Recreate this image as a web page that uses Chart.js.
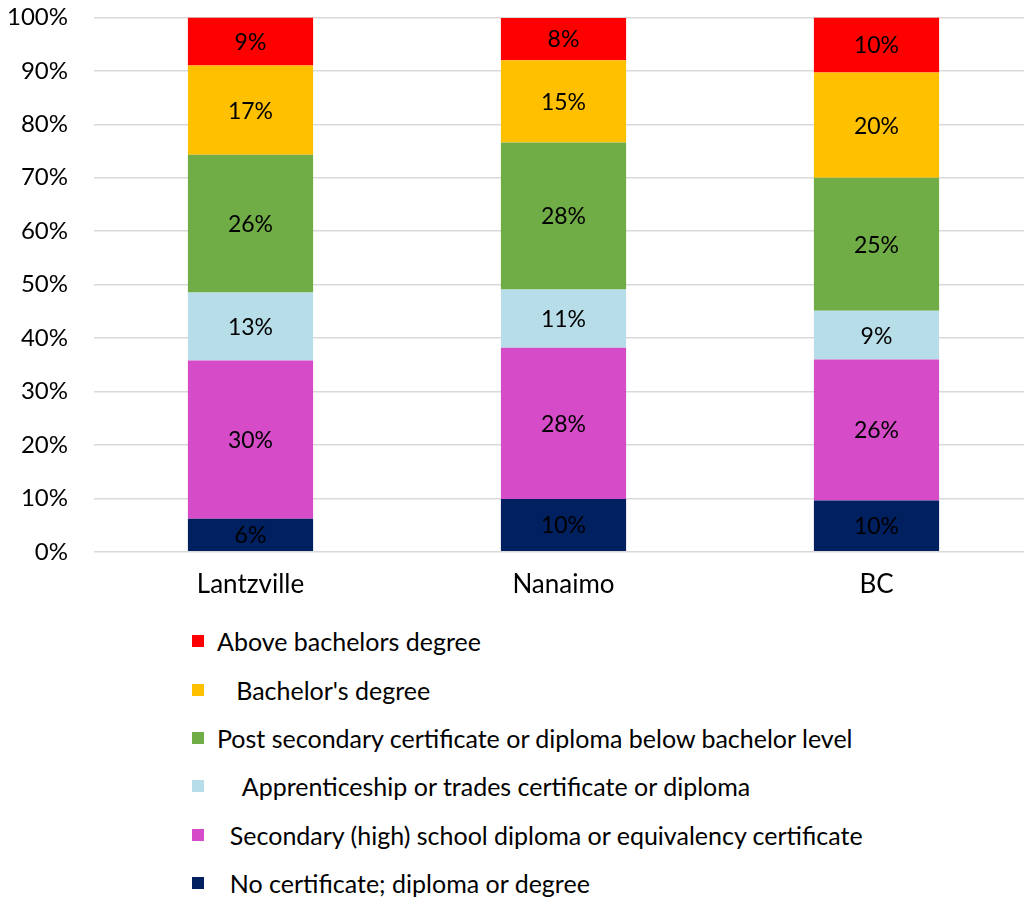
<!DOCTYPE html>
<html>
<head>
<meta charset="utf-8">
<script src="https://cdn.jsdelivr.net/npm/chart.js@4.4.1/dist/chart.umd.min.js"></script>
<style>
    html, body { margin: 0; padding: 0; background: #fff; width: 1024px; height: 901px; overflow: hidden; }
    #wrap { position: absolute; left: 0; top: -23px; width: 1033px; height: 632px; }
    #legend { position: absolute; left: 192px; top: 617px; font-family: "Lato", "Open Sans", sans-serif; font-size: 25px; color: #000; }
    .item { height: 48.4px; display: flex; align-items: center; white-space: pre; }
    .box { width: 12px; height: 12px; margin-right: 13px; flex: none; }
</style>
</head>
<body>
<div id="wrap"><canvas id="chart" width="1033" height="632"></canvas></div>
<div id="legend"></div>
<script>
const categories = ["Lantzville", "Nanaimo", "BC"];
const seriesNames = [
    "  No certificate; diploma or degree",
    "  Secondary (high) school diploma or equivalency certificate",
    "    Apprenticeship or trades certificate or diploma",
    "Post secondary certificate or diploma below bachelor level",
    "   Bachelor's degree",
    "Above bachelors degree",
];
const noCertificate = [6.2, 9.9, 9.6];
const secondary = [29.6, 28.3, 26.4];
const apprenticeship = [12.7, 10.9, 9.1];
const postSecondary = [25.8, 27.5, 24.9];
const bachelors = [16.7, 15.4, 19.7];
const aboveBachelors = [9.0, 7.9, 10.3];
const yTicks = [0, 10, 20, 30, 40, 50, 60, 70, 80, 90, 100];
const colors = ["#002060", "#d54bc8", "#b7dde8", "#70ad47", "#ffc000", "#ff0000"];

const seriesValues = [noCertificate, secondary, apprenticeship, postSecondary, bachelors, aboveBachelors];
const font = "Lato, 'Open Sans', sans-serif";

const barLabels = {
    id: "barLabels",
    afterDatasetsDraw(chart) {
        const ctx = chart.ctx;
        ctx.save();
        ctx.font = "23px " + font;
        ctx.fillStyle = "#000";
        ctx.textAlign = "center";
        ctx.textBaseline = "middle";
        chart.data.datasets.forEach((ds, i) => {
            chart.getDatasetMeta(i).data.forEach((bar, j) => {
                const mid = (bar.y + bar.base) / 2;
                ctx.fillText(Math.round(ds.data[j]) + "%", bar.x, mid + 1);
            });
        });
        ctx.restore();
    },
};

new Chart(document.getElementById("chart").getContext("2d"), {
    type: "bar",
    data: {
        labels: categories,
        datasets: seriesValues.map((values, i) => ({
            label: seriesNames[i].trim(),
            data: values,
            backgroundColor: colors[i],
            categoryPercentage: 1,
            barPercentage: 0.4,
        })),
    },
    options: {
        responsive: false,
        animation: false,
        layout: { padding: { top: 4, left: 0, right: 0, bottom: 0 } },
        plugins: {
            legend: { display: false },
            tooltip: { enabled: false },
        },
        scales: {
            x: {
                stacked: true,
                grid: { display: false },
                border: { display: false },
                ticks: { color: "#000", font: { family: font, size: 26 }, padding: 9 },
            },
            y: {
                stacked: true,
                min: 0,
                max: 100,
                afterBuildTicks(scale) {
                    scale.ticks = yTicks.map((v) => ({ value: v }));
                },
                afterFit(scale) {
                    scale.width = 94;
                },
                grid: { color: "#d9d9d9", lineWidth: 1.5, drawTicks: false },
                border: { display: false },
                ticks: {
                    color: "#000",
                    font: { family: font, size: 24 },
                    padding: 26,
                    callback: (v) => v + "%",
                },
            },
        },
    },
    plugins: [barLabels],
});

const legend = document.getElementById("legend");
for (let i = seriesNames.length - 1; i >= 0; i--) {
    const item = document.createElement("div");
    item.className = "item";
    const box = document.createElement("span");
    box.className = "box";
    box.style.background = colors[i];
    const text = document.createElement("span");
    text.textContent = seriesNames[i];
    item.appendChild(box);
    item.appendChild(text);
    legend.appendChild(item);
}
</script>
</body>
</html>
